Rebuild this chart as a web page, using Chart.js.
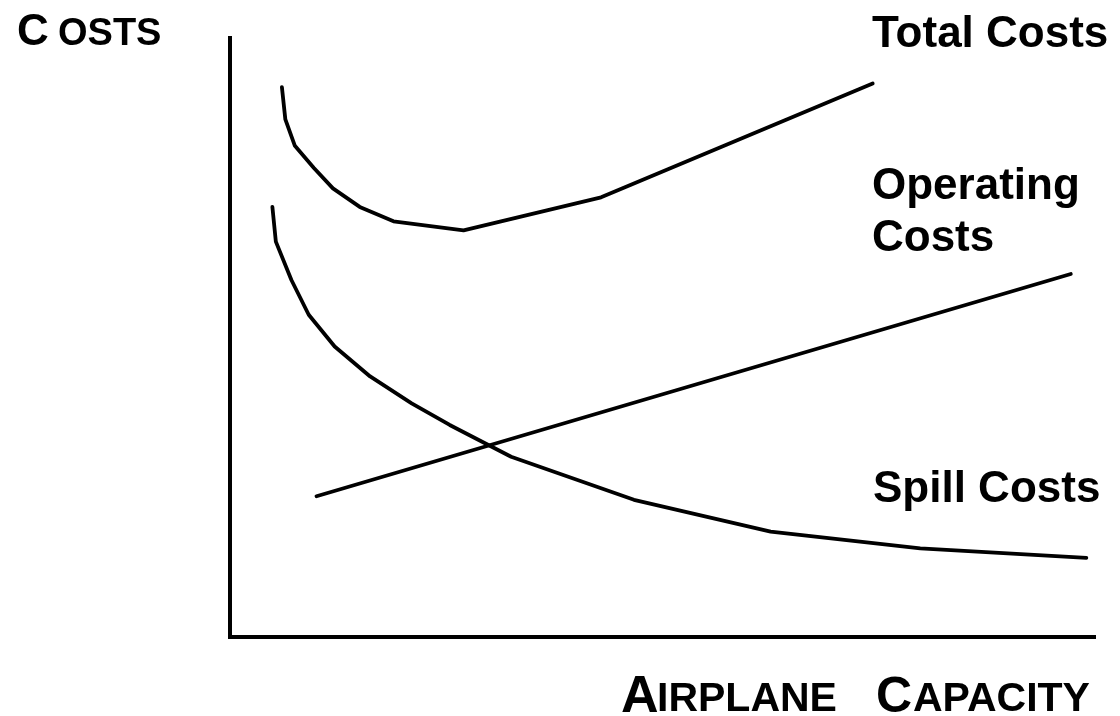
<!DOCTYPE html>
<html>
<head>
<meta charset="utf-8">
<script src="https://cdn.jsdelivr.net/npm/chart.js@4/dist/chart.umd.min.js"></script>
<style>
  html, body { margin: 0; padding: 0; background: #fff; }
  #wrap { position: relative; width: 1120px; height: 716px; }
  #chart { position: absolute; left: 0; top: 0; }
  .lbl { position: absolute; font-family: "Liberation Sans", Arial, sans-serif; font-weight: bold;
         color: #000; line-height: 1; white-space: nowrap; }
</style>
</head>
<body>
<div id="wrap">
  <canvas id="chart" width="1120" height="716"></canvas>
  <!-- small-caps style axis titles, split into big first letter + small rest -->
  <div class="lbl" style="left:17px; top:8px; font-size:44px;">C</div>
  <div class="lbl" style="left:58px; top:13px; font-size:38px;">OSTS</div>
  <div class="lbl" style="left:621px; top:668px; font-size:52px;">A</div>
  <div class="lbl" style="left:657px; top:677px; font-size:41px;">IRPLANE</div>
  <div class="lbl" style="left:876px; top:670px; font-size:50px;">C</div>
  <div class="lbl" style="left:913px; top:677px; font-size:41px;">APACITY</div>
  <!-- curve labels -->
  <div class="lbl" style="left:872px; top:10px; font-size:44px;">Total Costs</div>
  <div class="lbl" style="left:872px; top:158px; font-size:44px; line-height:52px;">Operating<br>Costs</div>
  <div class="lbl" style="left:873px; top:465px; font-size:44px;">Spill Costs</div>
</div>
<script>
// capacity (x) and cost (y), both on a 0-100 scale
const totalX = [6.0, 6.4, 7.5, 9.7, 11.9, 15.0, 18.9, 27.0, 42.9, 74.3];
const totalY = [91.8, 86.4, 82.0, 78.3, 74.9, 71.8, 69.4, 67.9, 73.4, 92.4];

const operX = [10.0, 97.2];
const operY = [23.5, 60.6];

const spillX = [4.9, 5.3, 7.1, 9.1, 12.1, 16.2, 21.0, 25.4, 32.5, 46.7, 62.5, 79.8, 99.0];
const spillY = [71.8, 66.0, 59.6, 53.8, 48.5, 43.5, 39.0, 35.4, 30.1, 22.9, 17.6, 14.8, 13.2];

function pts(xs, ys) {
  return xs.map((x, i) => ({ x: x, y: ys[i] }));
}

function lineSet(label, xs, ys) {
  return {
    label: label,
    data: pts(xs, ys),
    borderColor: '#000',
    borderWidth: 3.8,
    borderCapStyle: 'round',
    borderJoinStyle: 'round',
    pointRadius: 0,
    tension: 0,
    fill: false
  };
}

const axis = {
  type: 'linear',
  min: 0,
  max: 100,
  grid: { display: false, drawTicks: false },
  ticks: { display: false },
  border: { display: true, color: '#000', width: 4 }
};

const ctx = document.getElementById('chart').getContext('2d');
new Chart(ctx, {
  type: 'line',
  data: {
    datasets: [
      lineSet('Total Costs', totalX, totalY),
      lineSet('Operating Costs', operX, operY),
      lineSet('Spill Costs', spillX, spillY)
    ]
  },
  options: {
    responsive: false,
    animation: false,
    layout: { padding: { left: 230, right: 25, top: 38, bottom: 79 } },
    plugins: { legend: { display: false }, tooltip: { enabled: false } },
    scales: { x: axis, y: axis }
  }
});
</script>
</body>
</html>
